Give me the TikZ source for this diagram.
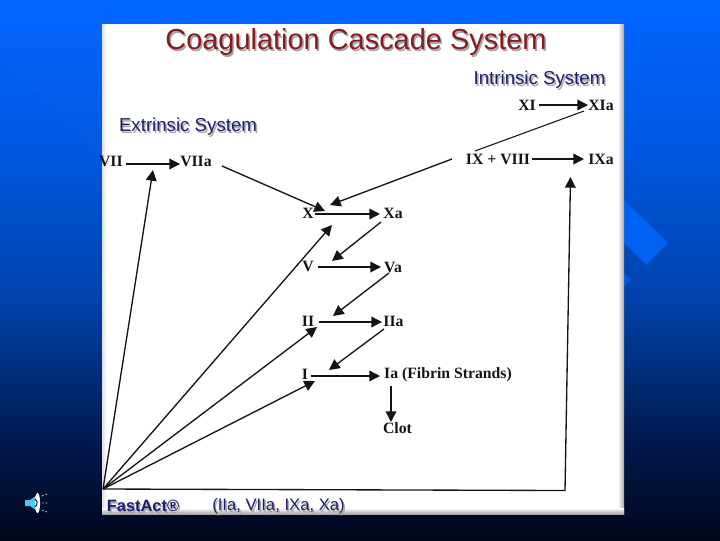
\documentclass[tikz,border=0pt]{standalone}
\usepackage{fontspec}
\setmainfont{Liberation Serif}
\newfontfamily\arialf{Liberation Sans}
\usetikzlibrary{arrows.meta}
\definecolor{bga}{RGB}{0,102,255}
\definecolor{bgb}{RGB}{0,88,225}
\definecolor{bgc}{RGB}{0,66,170}
\definecolor{bgd}{RGB}{0,28,84}
\definecolor{bge}{RGB}{0,6,28}
\definecolor{dia}{RGB}{0,98,240}
\definecolor{ttl}{RGB}{135,28,30}
\definecolor{navy}{RGB}{28,30,112}
\definecolor{shade}{RGB}{165,165,170}
\newcommand{\shtxt}[2]{\leavevmode\rlap{\kern1.1pt\raisebox{-1.3pt}{\textcolor{shade}{#2}}}\textcolor{#1}{#2}}
\tikzset{
 lab/.style={inner sep=0pt,font=\fontsize{11.8}{12}\selectfont\bfseries,text=black!92},
 sys/.style={inner sep=0pt,font=\arialf\fontsize{14}{15}\selectfont},
 arr/.style={draw=black!92,line width=1pt,-{Triangle[length=8pt,width=8pt]}},
 ln/.style={draw=black!92,line width=0.8pt},
}
\begin{document}
\begin{tikzpicture}[x=0.75pt,y=-0.75pt]
\useasboundingbox (0,0) rectangle (720,540);
% background
\fill[top color=bga,bottom color=bgb] (0,0) rectangle (720,151);
\fill[top color=bgb,bottom color=bgc] (0,150) rectangle (720,301);
\fill[top color=bgc,bottom color=bgd] (0,300) rectangle (720,431);
\fill[top color=bgd,bottom color=bge] (0,430) rectangle (720,540);
\fill[dia] (624,200) -- (668,243) -- (646,265) -- (624,243) -- cycle;
\fill[dia!70!bgc] (620,270) -- (631,279) -- (620,290) -- cycle;
\fill[white,opacity=.012] (0,0) -- (0,60) -- (102,157) -- (102,0) -- cycle;
% panel
\fill[white] (102,24) rectangle (624,514);
\fill[left color=black!12,right color=white] (102,24) rectangle (107,514);
\fill[left color=white,right color=black!35] (618,24) rectangle (624,514);
\fill[top color=white,bottom color=black!35] (102,508) rectangle (624,514);
% speaker
\fill[cyan!70!white] (25,500) -- (30,500) -- (36,496) -- (36,510) -- (30,506) -- (25,506) -- cycle;
\fill[white] (37.5,503) ellipse [x radius=2.6,y radius=10];
\draw[black,line width=0.7pt] (35,499) arc [start angle=-60,end angle=60,radius=4.5];
\draw[white!70!cyan,line width=0.6pt,dash pattern=on 1.2pt off 1.6pt] (42,496) -- (47,494) (42,503) -- (48,503) (42,510) -- (47,512);
% titles
\node[inner sep=0pt,font=\arialf\fontsize{21.7}{23}\selectfont] (title) at (356,43) {\shtxt{ttl}{Coagulation Cascade System}};
\node[sys] (intr) at (539.5,80.5) {\shtxt{navy}{Intrinsic System}};
\node[sys] (extr) at (188,127.5) {\shtxt{navy}{Extrinsic System}};
\node[inner sep=0pt,font=\arialf\bfseries\fontsize{12.3}{13}\selectfont] (fast) at (143,507) {\shtxt{navy}{FastAct®}};
\node[inner sep=0pt,font=\arialf\fontsize{12.5}{13}\selectfont] (list) at (278.5,507) {\shtxt{navy}{(IIa, VIIa, IXa, Xa)}};
% factors
\node[lab] (XI) at (527,105) {XI};
\node[lab] (XIa) at (601,105) {XIa};
\node[lab] (IXV) at (498,159) {IX + VIII};
\node[lab] (IXa) at (601,159) {IXa};
\node[lab,anchor=east] (VII) at (123,161) {VII};
\node[lab] (VIIa) at (196,161) {VIIa};
\node[lab] (X) at (308,213) {X};
\node[lab] (Xa) at (393,213) {Xa};
\node[lab] (V) at (308,266) {V};
\node[lab] (Va) at (393,267) {Va};
\node[lab] (II) at (308,321) {II};
\node[lab] (IIa) at (393.5,321) {IIa};
\node[lab] (I) at (305,374) {I};
\node[lab] (Ia) at (448,375) {Ia (Fibrin Strands)};
\node[lab] (Clot) at (397.5,428) {Clot};
\coordinate (O) at (103,489);
\coordinate (corner) at (565,490.5);
\coordinate (ixtip) at (570.5,177);
\coordinate (ixvtop) at (475,151);
% horizontal
\draw[arr] ([shift={(12,0)}]XI.center) -- ([shift={(-13,0)}]XIa.center);
\draw[arr] ([shift={(34,0)}]IXV.center) -- ([shift={(-17,0)}]IXa.center);
\draw[arr] ([shift={(3,3)}]VII.east) -- ([shift={(-16,3)}]VIIa.center);
\draw[arr] ([shift={(7,1)}]X.center) -- ([shift={(-13,1)}]Xa.center);
\draw[arr] ([shift={(10,1)}]V.center) -- ([shift={(-12,0)}]Va.center);
\draw[arr] ([shift={(11,1)}]II.center) -- ([shift={(-11.5,1)}]IIa.center);
\draw[arr] ([shift={(6,2)}]I.center) -- ([shift={(-68,1)}]Ia.center);
\draw[arr] ([shift={(-57,11)}]Ia.center) -- ([shift={(-6.5,-6)}]Clot.center);
% cascade diagonals
\draw[arr] ([shift={(26,5)}]VIIa.center) -- ([shift={(17,-2)}]X.center);
\draw[ln] ([shift={(-17,6)}]XIa.center) -- (ixvtop);
\draw[arr] ([shift={(-46,0)}]IXV.center) -- ([shift={(22,-8)}]X.center);
\draw[arr] ([shift={(-12,9)}]Xa.center) -- ([shift={(24,-5)}]V.center);
\draw[arr] ([shift={(-4,6)}]Va.center) -- ([shift={(25,-5)}]II.center);
\draw[arr] ([shift={(-9.5,8)}]IIa.center) -- ([shift={(24,-4)}]I.center);
% fan
\draw[arr] (O) -- ([shift={(42,9)}]VII.center);
\draw[arr] (O) -- ([shift={(24,12)}]X.center);
\draw[arr] (O) -- ([shift={(9,6)}]II.center);
\draw[arr] (O) -- ([shift={(10,7)}]I.center);
\draw[arr] (O) -- (corner) -- (ixtip);
\end{tikzpicture}
\end{document}
